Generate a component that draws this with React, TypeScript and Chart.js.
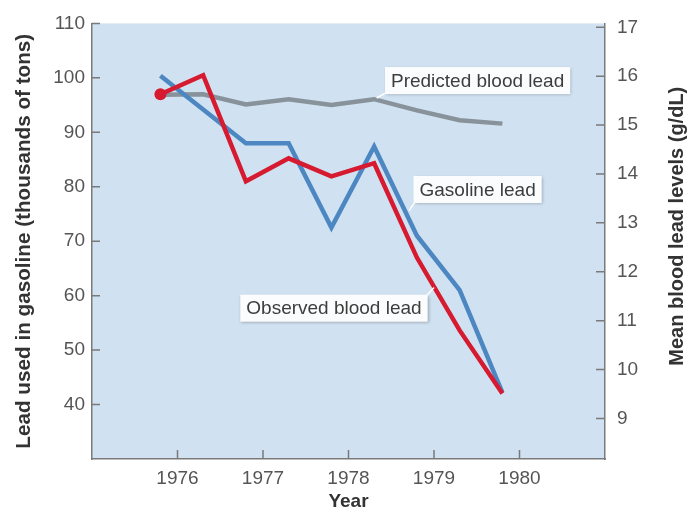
import React, { useEffect, useRef } from "react";
import { Chart, registerables } from "chart.js";

Chart.register(...registerables);

// ---- data ----
const YEARS = [1975.8, 1976.3, 1976.8, 1977.3, 1977.8, 1978.3, 1978.8, 1979.3, 1979.8];
const GASOLINE_YEARS = [1975.8, 1976.8, 1977.3, 1977.8, 1978.3, 1978.8, 1979.3, 1979.8];
const GASOLINE_LEAD = [100.4, 88.0, 88.0, 72.5, 87.4, 71.0, 61.0, 42.2];
const OBSERVED_BLOOD_LEAD = [15.63, 16.02, 13.85, 14.32, 13.95, 14.22, 12.29, 10.8, 9.51];
const PREDICTED_BLOOD_LEAD = [15.62, 15.63, 15.42, 15.53, 15.41, 15.53, 15.3, 15.1, 15.03];
const X_TICKS = [1976, 1977, 1978, 1979, 1980];
const LEFT_TICKS = [40, 50, 60, 70, 80, 90, 100, 110];
const RIGHT_TICKS = [9, 10, 11, 12, 13, 14, 15, 16, 17];

const X_TITLE = "Year";
const LEFT_TITLE = "Lead used in gasoline (thousands of tons)";
const RIGHT_TITLE = "Mean blood lead levels (g/dL)";

const LABEL_PREDICTED = "Predicted blood lead";
const LABEL_GASOLINE = "Gasoline lead";
const LABEL_OBSERVED = "Observed blood lead";

const FONT = "'Liberation Sans', Arial, Helvetica, sans-serif";
const TICK_COLOR = "#555555";
const TITLE_COLOR = "#333333";
const AXIS_COLOR = "#7a7a7a";
const BG = "#d0e1f1";

// annotation placement (box centre in x-year / left-axis units, leader target likewise)
const ANNOTATIONS = [
  { text: LABEL_PREDICTED, cx: 1979.51, cy: 99.5, from: "bl", tx: 1978.33, ty: 96.3 },
  { text: LABEL_GASOLINE, cx: 1979.51, cy: 79.5, from: "bl", tx: 1978.71, ty: 75.6 },
  { text: LABEL_OBSERVED, cx: 1977.83, cy: 57.7, from: "tr", tx: 1979.0, ty: 61.5 },
];

const decorPlugin = {
  id: "decor",
  beforeDraw(chart: any) {
    const { ctx, chartArea } = chart;
    ctx.save();
    ctx.fillStyle = BG;
    ctx.fillRect(chartArea.left, chartArea.top, chartArea.right - chartArea.left, chartArea.bottom - chartArea.top);
    ctx.restore();
  },
  beforeDatasetsDraw(chart: any) {
    const { ctx, chartArea, scales } = chart;
    ctx.save();
    ctx.strokeStyle = AXIS_COLOR;
    ctx.lineWidth = 1.5;
    ctx.beginPath();
    for (const v of X_TICKS) {
      const px = scales.x.getPixelForValue(v);
      ctx.moveTo(px, chartArea.bottom);
      ctx.lineTo(px, chartArea.bottom - 9);
    }
    for (const v of LEFT_TICKS) {
      const py = scales.y.getPixelForValue(v);
      ctx.moveTo(chartArea.left, py);
      ctx.lineTo(chartArea.left + 8, py);
    }
    for (const v of RIGHT_TICKS) {
      const py = scales.y1.getPixelForValue(v);
      ctx.moveTo(chartArea.right, py);
      ctx.lineTo(chartArea.right - 9, py);
    }
    ctx.stroke();
    ctx.restore();
  },
  afterDatasetsDraw(chart: any) {
    const { ctx, chartArea, scales } = chart;
    ctx.save();
    ctx.font = `19px ${FONT}`;
    for (const a of ANNOTATIONS) {
      const cx = scales.x.getPixelForValue(a.cx);
      const cy = scales.y.getPixelForValue(a.cy);
      const tw = ctx.measureText(a.text).width;
      const w = tw + 12;
      const h = 27;
      const l = cx - w / 2;
      const t = cy - h / 2;
      // leader
      const sx = a.from === "bl" ? l + 2 : l + w - 2;
      const sy = a.from === "bl" ? t + h - 2 : t + 2;
      ctx.strokeStyle = "#ffffff";
      ctx.lineWidth = 1.5;
      ctx.beginPath();
      ctx.moveTo(sx, sy);
      ctx.lineTo(scales.x.getPixelForValue(a.tx), scales.y.getPixelForValue(a.ty));
      ctx.stroke();
      // box
      ctx.save();
      ctx.shadowColor = "rgba(0,0,0,0.25)";
      ctx.shadowBlur = 3;
      ctx.shadowOffsetX = 1;
      ctx.shadowOffsetY = 1;
      ctx.fillStyle = "#fbfcfd";
      ctx.fillRect(l, t, w, h);
      ctx.restore();
      ctx.fillStyle = "#3d3d3d";
      ctx.textAlign = "center";
      ctx.textBaseline = "middle";
      ctx.fillText(a.text, cx, cy + 1);
    }
    // right axis title, reading bottom-to-top
    ctx.font = `bold 20px ${FONT}`;
    ctx.fillStyle = TITLE_COLOR;
    ctx.translate(chartArea.right + 72.5, (chartArea.top + chartArea.bottom) / 2 - 15);
    ctx.rotate(-Math.PI / 2);
    ctx.textAlign = "center";
    ctx.textBaseline = "middle";
    ctx.fillText(RIGHT_TITLE, 0, 0);
    ctx.restore();
  },
};

export default function App() {
  const ref = useRef<HTMLCanvasElement | null>(null);

  useEffect(() => {
    if (!ref.current) return;
    const tickFont = { family: FONT, size: 19 };
    const chart = new Chart(ref.current, {
      type: "line",
      data: {
        datasets: [
          {
            label: LABEL_OBSERVED,
            data: YEARS.map((x, i) => ({ x, y: OBSERVED_BLOOD_LEAD[i] })),
            yAxisID: "y1",
            borderColor: "#d61a30",
            backgroundColor: "#d61a30",
            borderWidth: 4.5,
            pointRadius: YEARS.map((_, i) => (i === 0 ? 6 : 0)),
            pointBorderWidth: 0,
            tension: 0,
          },
          {
            label: LABEL_GASOLINE,
            data: GASOLINE_YEARS.map((x, i) => ({ x, y: GASOLINE_LEAD[i] })),
            yAxisID: "y",
            borderColor: "#4c87c2",
            backgroundColor: "#4c87c2",
            borderWidth: 4.5,
            pointRadius: 0,
            tension: 0,
          },
          {
            label: LABEL_PREDICTED,
            data: YEARS.map((x, i) => ({ x, y: PREDICTED_BLOOD_LEAD[i] })),
            yAxisID: "y1",
            borderColor: "#88929a",
            backgroundColor: "#88929a",
            borderWidth: 4.5,
            pointRadius: 0,
            tension: 0,
          },
        ],
      },
      options: {
        responsive: false,
        animation: false,
        layout: { padding: { top: 21, left: 0, right: 0, bottom: 0 } },
        plugins: { legend: { display: false }, tooltip: { enabled: false } },
        scales: {
          x: {
            type: "linear",
            position: "bottom",
            min: 1975,
            max: 1981,
            afterBuildTicks: (s: any) => {
              s.ticks = X_TICKS.map((v) => ({ value: v }));
            },
            afterFit: (s: any) => {
              s.height = 52;
            },
            ticks: { font: tickFont, color: TICK_COLOR, padding: 8, callback: (v: any) => String(v) },
            grid: { display: false, drawTicks: false },
            border: { display: true, color: AXIS_COLOR, width: 1.5 },
            title: {
              display: true,
              text: X_TITLE,
              color: TITLE_COLOR,
              font: { family: FONT, size: 19, weight: "bold", lineHeight: 1 },
              padding: { top: 0, bottom: 0 },
            },
          },
          y: {
            type: "linear",
            position: "left",
            min: 30,
            max: 110,
            afterBuildTicks: (s: any) => {
              s.ticks = LEFT_TICKS.map((v) => ({ value: v }));
            },
            afterFit: (s: any) => {
              s.width = 92;
            },
            ticks: { font: tickFont, color: TICK_COLOR, padding: 7, callback: (v: any) => String(v) },
            grid: { display: false, drawTicks: false },
            border: { display: true, color: AXIS_COLOR, width: 1.5 },
            title: {
              display: true,
              text: LEFT_TITLE,
              color: TITLE_COLOR,
              font: { family: FONT, size: 20.7, weight: "bold", lineHeight: 1 },
              padding: { top: 14, bottom: 0 },
            },
          },
          y1: {
            type: "linear",
            position: "right",
            min: 8.17,
            max: 17.08,
            afterBuildTicks: (s: any) => {
              s.ticks = RIGHT_TICKS.map((v) => ({ value: v }));
            },
            afterFit: (s: any) => {
              s.width = 95;
            },
            ticks: { font: tickFont, color: TICK_COLOR, padding: 12, callback: (v: any) => String(v) },
            grid: { display: false, drawTicks: false },
            border: { display: true, color: AXIS_COLOR, width: 1.5 },
            title: { display: false },
          },
        },
      },
      plugins: [decorPlugin],
    } as any);
    return () => chart.destroy();
  }, []);

  return (
    <div style={{ position: "fixed", left: 0, top: 0, width: 700, height: 511, background: "#ffffff" }}>
      <canvas ref={ref} width={700} height={511} style={{ display: "block" }} />
    </div>
  );
}
